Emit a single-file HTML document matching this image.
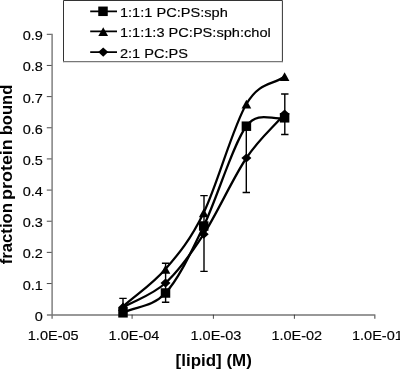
<!DOCTYPE html>
<html><head><meta charset="utf-8"><title>chart</title>
<style>
html,body{margin:0;padding:0;background:#fff;}
body{width:400px;height:370px;overflow:hidden;}
svg{display:block;}
text{font-family:"Liberation Sans",sans-serif;fill:#000;}
.t{font-size:13.3px;stroke:#000;stroke-width:0.15px;}
.b{font-size:15.7px;font-weight:bold;}
</style></head><body>
<svg width="400" height="370" viewBox="0 0 400 370">
<rect width="400" height="370" fill="#fff"/>

<g stroke="#777" stroke-width="1.4" fill="none"><path d="M52.1,33.8V318.8M46.9,315.0H375.4M374.8,315.0V318.8"/></g>
<g stroke="#2a2a2a" stroke-width="0.85" fill="none"><path d="M46.80,283.54H51.60M46.80,252.39H51.60M46.80,221.23H51.60M46.80,190.08H51.60M46.80,158.92H51.60M46.80,127.77H51.60M46.80,96.61H51.60M46.80,65.46H51.60M46.80,34.30H51.60M132.10,314.7V318.8M213.40,314.7V318.8M294.40,314.7V318.8"/></g>
<text class="t" transform="translate(42.80,320.70) scale(1.09,1)" text-anchor="end">0</text>
<text class="t" transform="translate(42.80,289.54) scale(1.09,1)" text-anchor="end">0.1</text>
<text class="t" transform="translate(42.80,258.39) scale(1.09,1)" text-anchor="end">0.2</text>
<text class="t" transform="translate(42.80,227.23) scale(1.09,1)" text-anchor="end">0.3</text>
<text class="t" transform="translate(42.80,196.08) scale(1.09,1)" text-anchor="end">0.4</text>
<text class="t" transform="translate(42.80,164.92) scale(1.09,1)" text-anchor="end">0.5</text>
<text class="t" transform="translate(42.80,133.77) scale(1.09,1)" text-anchor="end">0.6</text>
<text class="t" transform="translate(42.80,102.61) scale(1.09,1)" text-anchor="end">0.7</text>
<text class="t" transform="translate(42.80,71.46) scale(1.09,1)" text-anchor="end">0.8</text>
<text class="t" transform="translate(42.80,40.30) scale(1.09,1)" text-anchor="end">0.9</text>
<text class="t" transform="translate(53.20,340.20) scale(1.09,1)" text-anchor="middle">1.0E-05</text>
<text class="t" transform="translate(134.00,340.20) scale(1.09,1)" text-anchor="middle">1.0E-04</text>
<text class="t" transform="translate(215.90,340.20) scale(1.09,1)" text-anchor="middle">1.0E-03</text>
<text class="t" transform="translate(296.80,340.20) scale(1.09,1)" text-anchor="middle">1.0E-02</text>
<text class="t" transform="translate(377.40,340.20) scale(1.09,1)" text-anchor="middle">1.0E-01</text>
<text class="b" transform="translate(175.60,365.60) scale(1.08,1)">[lipid] (M)</text>
<text class="b" transform="translate(11.50,264.30) rotate(-90) scale(1.064,1)">fraction</text>
<text class="b" transform="translate(11.50,199.90) rotate(-90) scale(1.14,1)">protein</text>
<text class="b" transform="translate(11.50,135.30) rotate(-90) scale(1.056,1)">bound</text>
<g stroke="#000" stroke-width="1.4" fill="none">
<path d="M123.00,298.40V312.00M119.30,298.40H126.70"/>
<path d="M165.60,263.20V302.20M161.90,263.20H169.30M161.90,302.20H169.30"/>
<path d="M204.00,195.60V271.40M200.30,195.60H207.70M200.30,271.40H207.70"/>
<path d="M246.30,126.00V192.50M242.60,192.50H250.00"/>
<path d="M284.80,94.00V134.50M281.10,94.00H288.50M281.10,134.50H288.50"/>
</g>
<g stroke="#000" stroke-width="2.25" fill="none" stroke-linejoin="round">
<path d="M123.00,312.80 C137.17,306.20 152.05,307.47 165.50,293.00 C178.95,278.53 190.22,253.80 203.70,226.00 C217.18,198.20 232.92,144.23 246.40,126.20 C258.11,110.54 271.87,120.60 284.60,117.80"/>
<path d="M123.00,306.50 C137.17,294.03 152.05,284.73 165.50,269.10 C178.95,253.47 190.22,240.22 203.70,212.70 C217.18,185.18 232.92,126.70 246.40,104.00 C259.88,81.30 271.87,85.67 284.60,76.50"/>
<path d="M123.00,307.40 C137.17,299.27 152.05,295.20 165.50,283.00 C178.95,270.80 190.22,255.03 203.70,234.20 C217.18,213.37 232.92,178.03 246.40,158.00 C259.88,137.97 271.87,128.67 284.60,114.00"/>
</g>
<g fill="#000">
<rect x="118.25" y="308.05" width="9.50" height="9.50"/>
<rect x="160.75" y="288.25" width="9.50" height="9.50"/>
<rect x="198.95" y="221.25" width="9.50" height="9.50"/>
<rect x="241.65" y="121.45" width="9.50" height="9.50"/>
<rect x="279.85" y="113.05" width="9.50" height="9.50"/>
<path d="M123.00,302.30 L127.85,311.10 L118.15,311.10Z"/>
<path d="M165.50,264.90 L170.35,273.70 L160.65,273.70Z"/>
<path d="M203.70,208.50 L208.55,217.30 L198.85,217.30Z"/>
<path d="M246.40,99.80 L251.25,108.60 L241.55,108.60Z"/>
<path d="M284.60,72.30 L289.45,81.10 L279.75,81.10Z"/>
<path d="M123.00,302.80 L128.00,307.40 L123.00,312.00 L118.00,307.40Z"/>
<path d="M165.50,278.40 L170.50,283.00 L165.50,287.60 L160.50,283.00Z"/>
<path d="M203.70,229.60 L208.70,234.20 L203.70,238.80 L198.70,234.20Z"/>
<path d="M246.40,153.40 L251.40,158.00 L246.40,162.60 L241.40,158.00Z"/>
<path d="M284.60,109.40 L289.60,114.00 L284.60,118.60 L279.60,114.00Z"/>
</g>
<rect x="63.5" y="0.5" width="218.9" height="61.1" fill="#fff"/>
<path d="M63.5,62.1V0.5H282.4V62.1" fill="none" stroke="#333" stroke-width="1"/>
<path d="M63,61.6H282.9" fill="none" stroke="#777" stroke-width="1.2"/>
<g stroke="#000" stroke-width="1.85" fill="none"><path d="M90.2,11.3H117M90.2,31.4H117M90.2,52.1H117"/></g>
<g fill="#000"><rect x="98.25" y="6.55" width="9.50" height="9.50"/><path d="M103.20,27.20 L108.05,36.00 L98.35,36.00Z"/><path d="M103.20,47.50 L108.20,52.10 L103.20,56.70 L98.20,52.10Z"/></g>
<text class="t" transform="translate(119.90,17.10) scale(1.098,1)">1:1:1 PC:PS:sph</text>
<text class="t" transform="translate(119.90,37.20) scale(1.098,1)">1:1:1:3 PC:PS:sph:chol</text>
<text class="t" transform="translate(119.90,57.90) scale(1.098,1)">2:1 PC:PS</text>
</svg>
</body></html>
